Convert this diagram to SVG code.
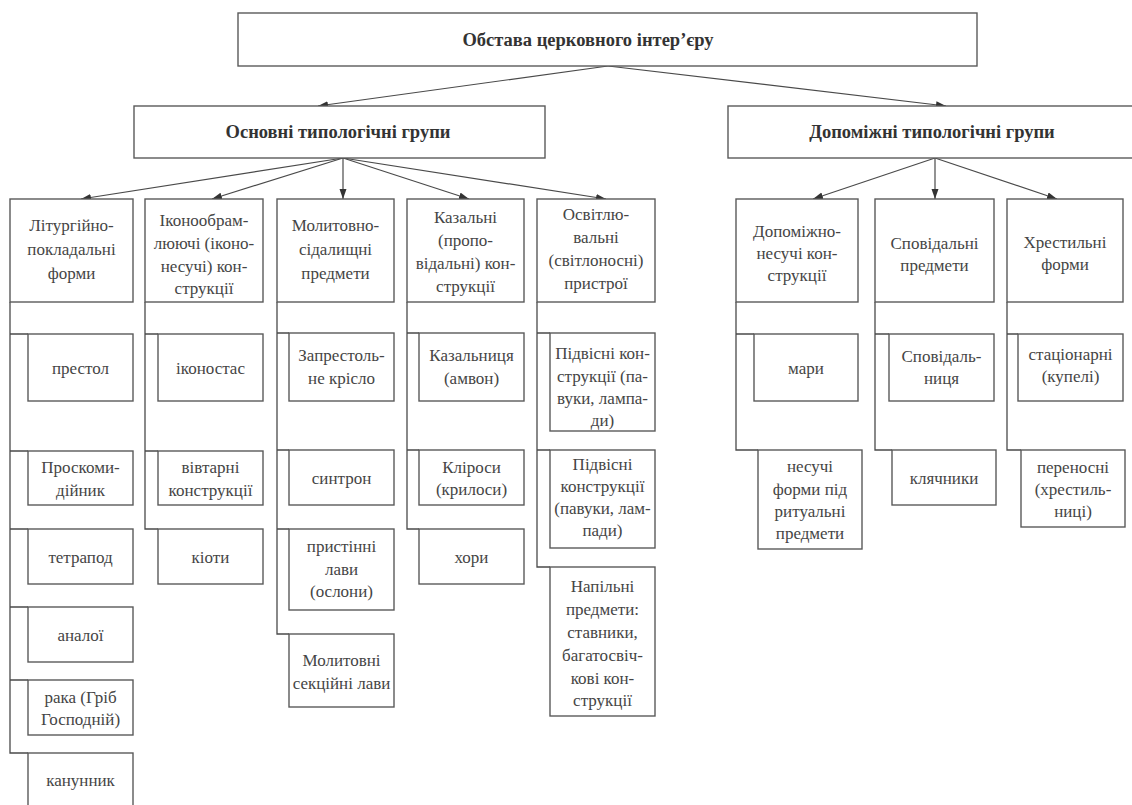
<svg xmlns="http://www.w3.org/2000/svg" width="1132" height="805" viewBox="0 0 1132 805">
<style>
.b{fill:#fff;stroke:#5a5a5a;stroke-width:1.4}
.t{font-family:'Liberation Serif','DejaVu Serif',serif;font-size:17px;fill:#454545;text-anchor:middle;dominant-baseline:central}
.h{font-family:'Liberation Serif','DejaVu Serif',serif;font-size:18.5px;font-weight:bold;fill:#333;text-anchor:middle;dominant-baseline:central}
.c{fill:none;stroke:#4a4a4a;stroke-width:1.3}
.a{fill:none;stroke:#4a4a4a;stroke-width:1.2;marker-end:url(#ah)}
</style>
<defs>
<marker id="ah" markerUnits="userSpaceOnUse" markerWidth="11" markerHeight="8" refX="10" refY="3.5" orient="auto">
<path d="M0,0 L10,3.5 L0,7 z" fill="#333"/>
</marker>
</defs>
<rect width="1132" height="805" fill="#fff"/>

<g id="connectors">
<line class="a" x1="608" y1="66" x2="318" y2="106"/>
<line class="a" x1="608" y1="66" x2="946" y2="106"/>
<line class="a" x1="343" y1="158" x2="81" y2="199"/>
<line class="a" x1="343" y1="158" x2="212" y2="199"/>
<line class="a" x1="343" y1="158" x2="343" y2="199"/>
<line class="a" x1="343" y1="158" x2="469" y2="199"/>
<line class="a" x1="343" y1="158" x2="606" y2="199"/>
<line class="a" x1="935" y1="158" x2="813" y2="199"/>
<line class="a" x1="935" y1="158" x2="935" y2="199"/>
<line class="a" x1="935" y1="158" x2="1057" y2="199"/>
<path class="c" d="M10,302 V753 H28 M10,334 H28 M10,451 H28 M10,529 H28 M10,607 H28 M10,680 H28"/>
<path class="c" d="M145,302 V529 H158 M145,334 H158 M145,451 H158"/>
<path class="c" d="M277,302 V634 H289 M277,333 H289 M277,450 H289 M277,529 H289"/>
<path class="c" d="M407,302 V529 H419 M407,333 H419 M407,450 H419"/>
<path class="c" d="M537,302 V567 H550 M537,333 H550 M537,450 H550"/>
<path class="c" d="M736,302 V450 H758 M736,334 H754"/>
<path class="c" d="M875,302 V450 H892 M875,334 H889"/>
<path class="c" d="M1007,302 V450 H1021 M1007,334 H1018"/>
</g>

<g id="root"><rect class="b" x="238" y="13" width="739" height="53"/><text class="h" x="588" y="40">Обстава церковного інтер’єру</text></g>
<g id="osnovni"><rect class="b" x="134" y="106" width="411" height="52"/><text class="h" x="338" y="132">Основні типологічні групи</text></g>
<g id="dopomizhni"><rect class="b" x="728" y="106" width="420" height="52"/><text class="h" x="932" y="132">Допоміжні типологічні групи</text></g>

<g id="col1"><rect class="b" x="10" y="199" width="123" height="103"/><text class="t"><tspan x="71.5" y="225">Літургійно-</tspan><tspan x="71.5" y="249">покладальні</tspan><tspan x="71.5" y="273">форми</tspan></text></g>
<g id="col2"><rect class="b" x="145" y="199" width="118" height="103"/><text class="t"><tspan x="204" y="220">Іконообрам-</tspan><tspan x="204" y="243">люючі (іконо-</tspan><tspan x="204" y="266">несучі) кон-</tspan><tspan x="204" y="288">струкції</tspan></text></g>
<g id="col3"><rect class="b" x="277" y="199" width="117" height="103"/><text class="t"><tspan x="335.5" y="225">Молитовно-</tspan><tspan x="335.5" y="249">сідалищні</tspan><tspan x="335.5" y="273">предмети</tspan></text></g>
<g id="col4"><rect class="b" x="407" y="199" width="117" height="103"/><text class="t"><tspan x="465.5" y="217">Казальні</tspan><tspan x="465.5" y="240">(пропо-</tspan><tspan x="465.5" y="263">відальні) кон-</tspan><tspan x="465.5" y="286">струкції</tspan></text></g>
<g id="col5"><rect class="b" x="537" y="199" width="118" height="103"/><text class="t"><tspan x="596" y="214">Освітлю-</tspan><tspan x="596" y="237">вальні</tspan><tspan x="596" y="260">(світлоносні)</tspan><tspan x="596" y="283">пристрої</tspan></text></g>
<g id="col6"><rect class="b" x="736" y="199" width="122" height="103"/><text class="t"><tspan x="797" y="231">Допоміжно-</tspan><tspan x="797" y="253">несучі кон-</tspan><tspan x="797" y="275">струкції</tspan></text></g>
<g id="col7"><rect class="b" x="875" y="199" width="119" height="103"/><text class="t"><tspan x="934.5" y="243">Сповідальні</tspan><tspan x="934.5" y="265">предмети</tspan></text></g>
<g id="col8"><rect class="b" x="1007" y="199" width="116" height="103"/><text class="t"><tspan x="1065" y="242">Хрестильні</tspan><tspan x="1065" y="264">форми</tspan></text></g>

<g id="prestol"><rect class="b" x="28" y="334" width="105" height="67"/><text class="t" x="80.5" y="368">престол</text></g>
<g id="proskomydiynyk"><rect class="b" x="28" y="451" width="105" height="54"/><text class="t"><tspan x="80.5" y="467">Проскоми-</tspan><tspan x="80.5" y="490">дійник</tspan></text></g>
<g id="tetrapod"><rect class="b" x="28" y="529" width="105" height="55"/><text class="t" x="80.5" y="557">тетрапод</text></g>
<g id="analoi"><rect class="b" x="28" y="607" width="105" height="55"/><text class="t" x="80.5" y="635">аналої</text></g>
<g id="raka"><rect class="b" x="28" y="680" width="105" height="55"/><text class="t"><tspan x="80.5" y="697">рака (Гріб</tspan><tspan x="80.5" y="719">Господній)</tspan></text></g>
<g id="kanunnyk"><rect class="b" x="28" y="753" width="105" height="60"/><text class="t" x="80.5" y="780">канунник</text></g>

<g id="ikonostas"><rect class="b" x="158" y="334" width="105" height="67"/><text class="t" x="210.5" y="368">іконостас</text></g>
<g id="vivtarni"><rect class="b" x="158" y="451" width="105" height="54"/><text class="t"><tspan x="210.5" y="467">вівтарні</tspan><tspan x="210.5" y="490">конструкції</tspan></text></g>
<g id="kioty"><rect class="b" x="158" y="529" width="105" height="55"/><text class="t" x="210.5" y="557">кіоти</text></g>

<g id="zaprestolne"><rect class="b" x="289" y="333" width="105" height="68"/><text class="t"><tspan x="341.5" y="355">Запрестоль-</tspan><tspan x="341.5" y="378">не крісло</tspan></text></g>
<g id="syntron"><rect class="b" x="289" y="450" width="105" height="55"/><text class="t" x="341.5" y="478">синтрон</text></g>
<g id="prystinni"><rect class="b" x="289" y="529" width="105" height="81"/><text class="t"><tspan x="341.5" y="546">пристінні</tspan><tspan x="341.5" y="569">лави</tspan><tspan x="341.5" y="591">(ослони)</tspan></text></g>
<g id="sektsiyni"><rect class="b" x="289" y="634" width="105" height="73"/><text class="t"><tspan x="341.5" y="660">Молитовні</tspan><tspan x="341.5" y="683">секційні лави</tspan></text></g>

<g id="kazalnytsia"><rect class="b" x="419" y="333" width="105" height="68"/><text class="t"><tspan x="471.5" y="355">Казальниця</tspan><tspan x="471.5" y="378">(амвон)</tspan></text></g>
<g id="klirosy"><rect class="b" x="419" y="450" width="105" height="55"/><text class="t"><tspan x="471.5" y="467">Кліроси</tspan><tspan x="471.5" y="489">(крилоси)</tspan></text></g>
<g id="khory"><rect class="b" x="419" y="529" width="105" height="55"/><text class="t" x="471.5" y="557">хори</text></g>

<g id="pidvisni1"><rect class="b" x="550" y="333" width="105" height="98"/><text class="t"><tspan x="602.5" y="353">Підвісні кон-</tspan><tspan x="602.5" y="376">струкції (па-</tspan><tspan x="602.5" y="398">вуки, лампа-</tspan><tspan x="602.5" y="420">ди)</tspan></text></g>
<g id="pidvisni2"><rect class="b" x="550" y="450" width="105" height="98"/><text class="t"><tspan x="602.5" y="464">Підвісні</tspan><tspan x="602.5" y="486">конструкції</tspan><tspan x="602.5" y="508">(павуки, лам-</tspan><tspan x="602.5" y="530">пади)</tspan></text></g>
<g id="napilni"><rect class="b" x="550" y="567" width="105" height="149"/><text class="t"><tspan x="602.5" y="586">Напільні</tspan><tspan x="602.5" y="609">предмети:</tspan><tspan x="602.5" y="632">ставники,</tspan><tspan x="602.5" y="655">багатосвіч-</tspan><tspan x="602.5" y="678">кові кон-</tspan><tspan x="602.5" y="700">струкції</tspan></text></g>

<g id="mary"><rect class="b" x="754" y="334" width="104" height="67"/><text class="t" x="806" y="368">мари</text></g>
<g id="nesuchi"><rect class="b" x="758" y="450" width="104" height="99"/><text class="t"><tspan x="810" y="466">несучі</tspan><tspan x="810" y="489">форми під</tspan><tspan x="810" y="511">ритуальні</tspan><tspan x="810" y="533">предмети</tspan></text></g>

<g id="spovidalnytsia"><rect class="b" x="889" y="334" width="105" height="67"/><text class="t"><tspan x="941.5" y="356">Сповідаль-</tspan><tspan x="941.5" y="378">ниця</tspan></text></g>
<g id="kliachnyky"><rect class="b" x="892" y="450" width="104" height="55"/><text class="t" x="944" y="478">клячники</text></g>

<g id="statsionarni"><rect class="b" x="1018" y="334" width="105" height="67"/><text class="t"><tspan x="1070.5" y="354">стаціонарні</tspan><tspan x="1070.5" y="376">(купелі)</tspan></text></g>
<g id="perenosni"><rect class="b" x="1021" y="450" width="104" height="77"/><text class="t"><tspan x="1073" y="467">переносні</tspan><tspan x="1073" y="489">(хрестиль-</tspan><tspan x="1073" y="511">ниці)</tspan></text></g>
</svg>
